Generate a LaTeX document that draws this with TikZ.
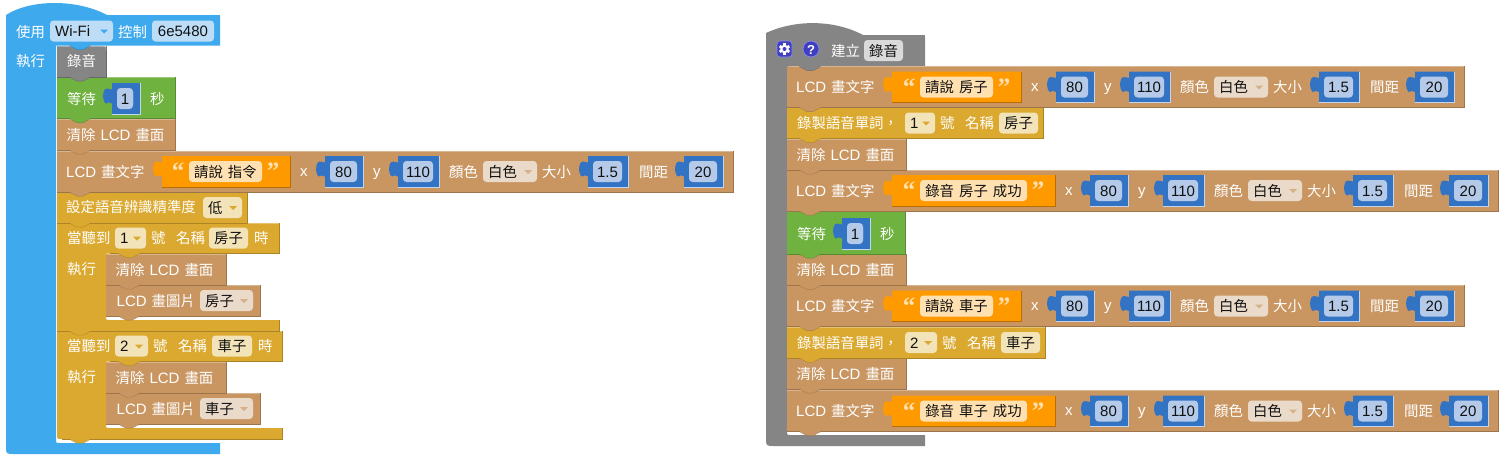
\documentclass[tikz,border=0pt]{standalone}
\usepackage{fontspec}
\setmainfont{Liberation Sans}
\newfontfamily\zhfont{Noto Sans CJK TC}
\newfontfamily\qfont{Liberation Serif}
\definecolor{cblue}{HTML}{3FA9EE}
\definecolor{cgray}{HTML}{858585}
\definecolor{cgreen}{HTML}{6FB23F}
\definecolor{cbrown}{HTML}{C99662}
\definecolor{cgold}{HTML}{DBA92F}
\definecolor{corange}{HTML}{FF9900}
\definecolor{cnum}{HTML}{3373C4}
\definecolor{cicon}{HTML}{3F3FC0}
\definecolor{cicob}{HTML}{8A8AE6}
\definecolor{fblue}{HTML}{BDDDF7}
\definecolor{fgray}{HTML}{DADADA}
\definecolor{fbrown}{HTML}{EADACA}
\definecolor{fgold}{HTML}{F3E3B8}
\definecolor{forange}{HTML}{FFE0B0}
\definecolor{fnum}{HTML}{B4CAE8}
\definecolor{txt}{HTML}{111111}
\newcount\nodecnt
\newcommand\Z[1]{{\zhfont\fontsize{14.4}{16}\selectfont #1}}
\newcommand\lblfont{\fontsize{15}{17}\selectfont\spaceskip=5pt\relax}
\tikzset{
  lbl/.style={anchor=base west,inner sep=0pt,font=\lblfont},
  clbl/.style={lbl,anchor=base},
}
% label: x, centre y, text, colour
\newcommand\Lbl[4][white]{\global\advance\nodecnt 1 \node[lbl,text=#1,name=n\the\nodecnt] at ({#2},{#3+5.5}) {#4};}
% field: [height] x1 x2 cy fill text
\newcommand\Fld[6][21]{\global\advance\nodecnt 1
  \fill[#5,rounded corners=3.5pt] ({#2},{#4-#1/2}) rectangle ({#3},{#4+#1/2});
  \node[clbl,text=txt,name=n\the\nodecnt] at ({(#2+#3)/2},{#4+5.5}) {#6};}
% dropdown: x1 x2 cy fill tri text
\newcommand\Ddn[6]{\global\advance\nodecnt 1
  \fill[#4,rounded corners=3.5pt] ({#1},{#3-10.5}) rectangle ({#2},{#3+10.5});
  \node[lbl,text=txt,name=n\the\nodecnt] at ({#1+5},{#3+5.5}) {#6};
  \fill[#5] ({#2-13},{#3-1.5}) -- ({#2-5},{#3-1.5}) -- ({#2-9},{#3+2.5}) -- cycle;}
% bottom tab: x y colour
\newcommand\Tab[3]{\fill[#3] ({#1+12},{#2-.5}) -- ({#1+20},{#2+4}) -- ({#1+26},{#2+4}) -- ({#1+34},{#2-.5}) -- cycle;
  \draw[#3!82!black,line width=.4pt] ({#1+12},{#2}) -- ({#1+20},{#2+4.1}) -- ({#1+26},{#2+4.1}) -- ({#1+34},{#2});}
% corner patch: x y colour sx sy (round the corner at x,y)
\newcommand\Cor[5]{\fill[#3] ({#1},{#2}) -- ({#1+#4*4},{#2}) .. controls ({#1},{#2}) .. ({#1},{#2+#5*4}) -- cycle;}
% statement: x1 x2 y1 y2 colour
\newcommand\Stm[5]{\fill[#5] ({#1},{#3}) rectangle ({#2},{#4});
  \draw[#5!70!white,line width=.5pt] ({#1},{#3+.3}) -- ({#2},{#3+.3});
  \draw[#5!78!black,line width=.7pt] ({#1},{#4}) -- ({#2},{#4}) -- ({#2},{#3});
  \Tab{#1}{#4}{#5}}
% number block: x1 x2 cy fx1 fx2 text
\newcommand\Num[6]{\fill[cnum] ({#1},{#3-15.5}) -- ({#2},{#3-15.5}) -- ({#2},{#3+15.5}) -- ({#1},{#3+15.5}) -- ({#1},{#3+5}) .. controls ({#1-3},{#3+4}) and ({#1-4},{#3+3}) .. ({#1-6},{#3+5}) .. controls ({#1-10},{#3+3}) and ({#1-10},{#3-10}) .. ({#1-5},{#3-10}) .. controls ({#1-3},{#3-10}) and ({#1-2},{#3-9}) .. ({#1},{#3-9}) -- cycle;
  \draw[white!70!cnum,line width=.5pt] ({#1},{#3+15.5}) -- ({#2},{#3+15.5}) -- ({#2},{#3-15.5});
  \Fld{#4}{#5}{#3}{fnum}{#6}}
% text block: x1 x2 cy fx1 fx2 text
\newcommand\Str[6]{\fill[corange] ({#1},{#3-15.5}) -- ({#2},{#3-15.5}) -- ({#2},{#3+15.5}) -- ({#1},{#3+15.5}) -- ({#1},{#3+5}) .. controls ({#1-3},{#3+4}) and ({#1-4},{#3+3}) .. ({#1-6},{#3+5}) .. controls ({#1-10},{#3+3}) and ({#1-10},{#3-10}) .. ({#1-5},{#3-10}) .. controls ({#1-3},{#3-10}) and ({#1-2},{#3-9}) .. ({#1},{#3-9}) -- cycle;
  \draw[corange!72!black,line width=.5pt] ({#1},{#3+15.5}) -- ({#2},{#3+15.5}) -- ({#2},{#3-15.5});
  \Fld{#4}{#5}{#3}{forange}{#6}
  \global\advance\nodecnt 1 \node[clbl,text=forange,font=\qfont\bfseries\fontsize{25}{25}\selectfont,name=n\the\nodecnt] at ({#4-11},{#3+8}) {“};
  \global\advance\nodecnt 1 \node[clbl,text=forange,font=\qfont\bfseries\fontsize{25}{25}\selectfont,name=n\the\nodecnt] at ({#5+11},{#3+8}) {”};}
% LCD text row: d e cy orange-end fx1 fx2 text
\newcommand\Lcd[7]{\Stm{57+#1}{733+#2}{#3-21}{#3+20.5}{cbrown}
  \Lbl{66+#1}{#3}{LCD \Z{畫文字}}
  \Str{162+#1}{#4}{#3}{#5}{#6}{\Z{#7}}
  \Lbl{300+#2}{#3-1}{x}
  \Num{325+#2}{363+#2}{#3}{330+#2}{357+#2}{80}
  \Lbl{373+#2}{#3-1}{y}
  \Num{398+#2}{439+#2}{#3}{403+#2}{433+#2}{110}
  \Lbl{449+#2}{#3}{\Z{顏色}}
  \Ddn{483+#2}{537+#2}{#3}{fbrown}{cbrown!75!white}{\Z{白色}}
  \Lbl{542+#2}{#3}{\Z{大小}}
  \Num{588+#2}{628+#2}{#3}{593+#2}{622+#2}{1.5}
  \Lbl{639+#2}{#3}{\Z{間距}}
  \Num{684+#2}{723+#2}{#3}{689+#2}{717+#2}{20}}
% clear row: x1 x2 cy
\newcommand\Clr[3]{\Stm{#1}{#2}{#3-16}{#3+15.5}{cbrown}
  \Lbl{#1+9.5}{#3}{\Z{清除} LCD \Z{畫面}}}
% wait row: d cy y1 y2
\newcommand\Wait[4]{\Stm{57+#1}{175+#1}{#3}{#4}{cgreen}
  \Lbl{67+#1}{#2}{\Z{等待}}
  \Num{112+#1}{140+#1}{#2}{117+#1}{133+#1}{}
  \Fld[18]{117+#1}{133+#1}{#2}{fnum}{1}
  \Lbl{150+#1}{#2}{\Z{秒}}}
% record row: e cy num name
\newcommand\Rec[4]{\Stm{787}{1043+#1}{#2-16}{#2+15.5}{cgold}
  \Lbl{797}{#2}{\Z{錄製語音單詞，}}
  \Ddn{905}{935+#1}{#2}{fgold}{cgold}{#3}
  \Lbl{940+#1}{#2}{\Z{號}}
  \Lbl{965+#1}{#2}{\Z{名稱}}
  \Fld{999+#1}{1038+#1}{#2}{fgold}{\Z{#4}}}
% C-shaped listen block: x2 y1 barTop barBot radius
\newcommand\Cbk[5]{\fill[cgold] (57,{#2}) -- ({#1},{#2}) -- ({#1},{#2+30.5}) -- (106,{#2+30.5}) -- (106,{#3-4}) .. controls (106,{#3}) .. (110,{#3}) -- ({#1},{#3}) -- ({#1},{#4}) -- ({57+#5},{#4}) .. controls (57,{#4}) .. (57,{#4-#5}) -- cycle;
  \draw[cgold!78!black,line width=.7pt] ({#1},{#3}) -- ({#1},{#4}) -- ({57+#5},{#4});
  \draw[cgold!78!black,line width=.7pt] ({#1},{#2}) -- ({#1},{#2+30.5}) -- (110,{#2+30.5});
  \draw[cgold!70!white,line width=.5pt] (57,{#2+.3}) -- ({#1},{#2+.3});
  \Tab{57}{#4}{cgold}}
% listen contents: y1 num name ddx fx1 fx2 pic
\newcommand\Lis[7]{\Lbl{67}{#1+15}{\Z{當聽到}}
  \Ddn{115}{#4}{#1+15}{fgold}{cgold}{#2}
  \Lbl{#4+5}{#1+15}{\Z{號}}
  \Lbl{#4+30}{#1+15}{\Z{名稱}}
  \Fld{#5}{#6}{#1+15}{fgold}{\Z{#3}}
  \Lbl{#6+6}{#1+15}{\Z{時}}
  \Lbl{67}{#1+46}{\Z{執行}}
  \Stm{106}{260}{#1+62}{#1+93}{cbrown}
  \Lbl{116.5}{#1+77.5}{LCD \Z{畫圖片}}
  \Ddn{200}{253}{#1+77.5}{fbrown}{cbrown!75!white}{\Z{#7}}
  \Clr{106}{226}{#1+46.5}
  \Cor{106}{#1+31}{cgold}{1}{1}
  \Tab{106}{#1+30.5}{cgold}}
\begin{document}
\begin{tikzpicture}[x=1pt,y=-1pt]
\useasboundingbox (0,0) rectangle (1507,463);
\fill[white] (0,0) rectangle (1507,463);
%% ---------- left stack
\fill[cblue] (6,15) .. controls (31,-1) and (77,-1) .. (107,15) -- (218.5,15) .. controls (220,15) .. (220,16.5) -- (220,45.5) -- (56,45.5) -- (56,439) .. controls (56,443) .. (60,443) -- (220,443) -- (220,454) -- (14,454) .. controls (6,454) .. (6,446) -- cycle;
\Lbl{16}{32}{\Z{使用}}
\Ddn{50}{113}{31}{fblue}{cblue}{Wi-Fi}
\Lbl{118}{32}{\Z{控制}}
\Fld{152}{214}{31}{fblue}{6e5480}
\Lbl{16}{61}{\Z{執行}}
% listen 2
\Cbk{282}{331}{428}{439}{5}
\Lis{331}{2}{車子}{148}{212}{252}{車子}
% listen 1
\Cbk{279}{223}{320}{331}{0.01}
\Lis{223}{1}{房子}{146}{209}{248}{房子}
% setting
\Stm{57}{247}{192}{223}{cgold}
\Lbl{66}{207}{\Z{設定語音辨識精準度}}
\Ddn{203}{242}{207.5}{fgold}{cgold}{\Z{低}}
% lcd
\Lcd{0}{0}{171.5}{290}{189}{262}{請說 指令}
\Clr{57}{175}{134.5}
\Wait{0}{98.5}{77}{118.5}
% record
\Stm{57}{106}{46}{77}{cgray}
\Lbl{67}{61}{\Z{錄音}}
\Cor{57}{46}{cblue}{1}{1}
\Cor{106}{46}{white}{-1}{1}
\Tab{57}{45.5}{cblue}
%% ---------- right stack
\fill[cgray] (766,33) .. controls (795,19.5) and (834,19.5) .. (863,35) -- (923,35) .. controls (925,35) .. (925,37) -- (925,67) -- (787,67) -- (787,431) .. controls (787,435) .. (791,435) -- (925,435) -- (925,446) -- (774,446) .. controls (766,446) .. (766,438) -- cycle;
% icons
\fill[cicon,rounded corners=3pt,draw=cicob,line width=.7pt] (777,41) rectangle (792,57);
\fill[white] (784.5,49) circle (4.3pt);
\foreach \a in {0,60,...,300} \fill[white,shift={(784.5,49)},rotate=\a] (-1.3,-5.6) rectangle (1.3,-3);
\fill[cicon] (784.5,49) circle (2pt);
\fill[cicon,draw=cicob,line width=.7pt] (811,49) circle (8pt);
\global\advance\nodecnt 1
\node[clbl,text=white,font=\bfseries\fontsize{13}{13}\selectfont,name=n\the\nodecnt] at (811,54) {?};
\Lbl{831}{51}{\Z{建立}}
\Fld{864}{903}{50.5}{fgray}{\Z{錄音}}
% rows bottom-up
\Lcd{730}{765}{411}{1055}{920}{1027}{錄音 車子 成功}
\Clr{787}{906}{373.5}
\Rec{2}{342.5}{2}{車子}
\Lcd{730}{731}{306}{1021}{920}{993}{請說 車子}
\Clr{787}{906}{270}
\Wait{730}{233.5}{211}{254}
\Lcd{730}{765}{190.5}{1055}{920}{1027}{錄音 房子 成功}
\Clr{787}{906}{154.5}
\Rec{0}{123}{1}{房子}
\Lcd{730}{731}{87}{1021}{920}{993}{請說 房子}
\Cor{787}{66}{cgray}{1}{1}
\Tab{787}{66.5}{cgray}
\end{tikzpicture}
\end{document}
